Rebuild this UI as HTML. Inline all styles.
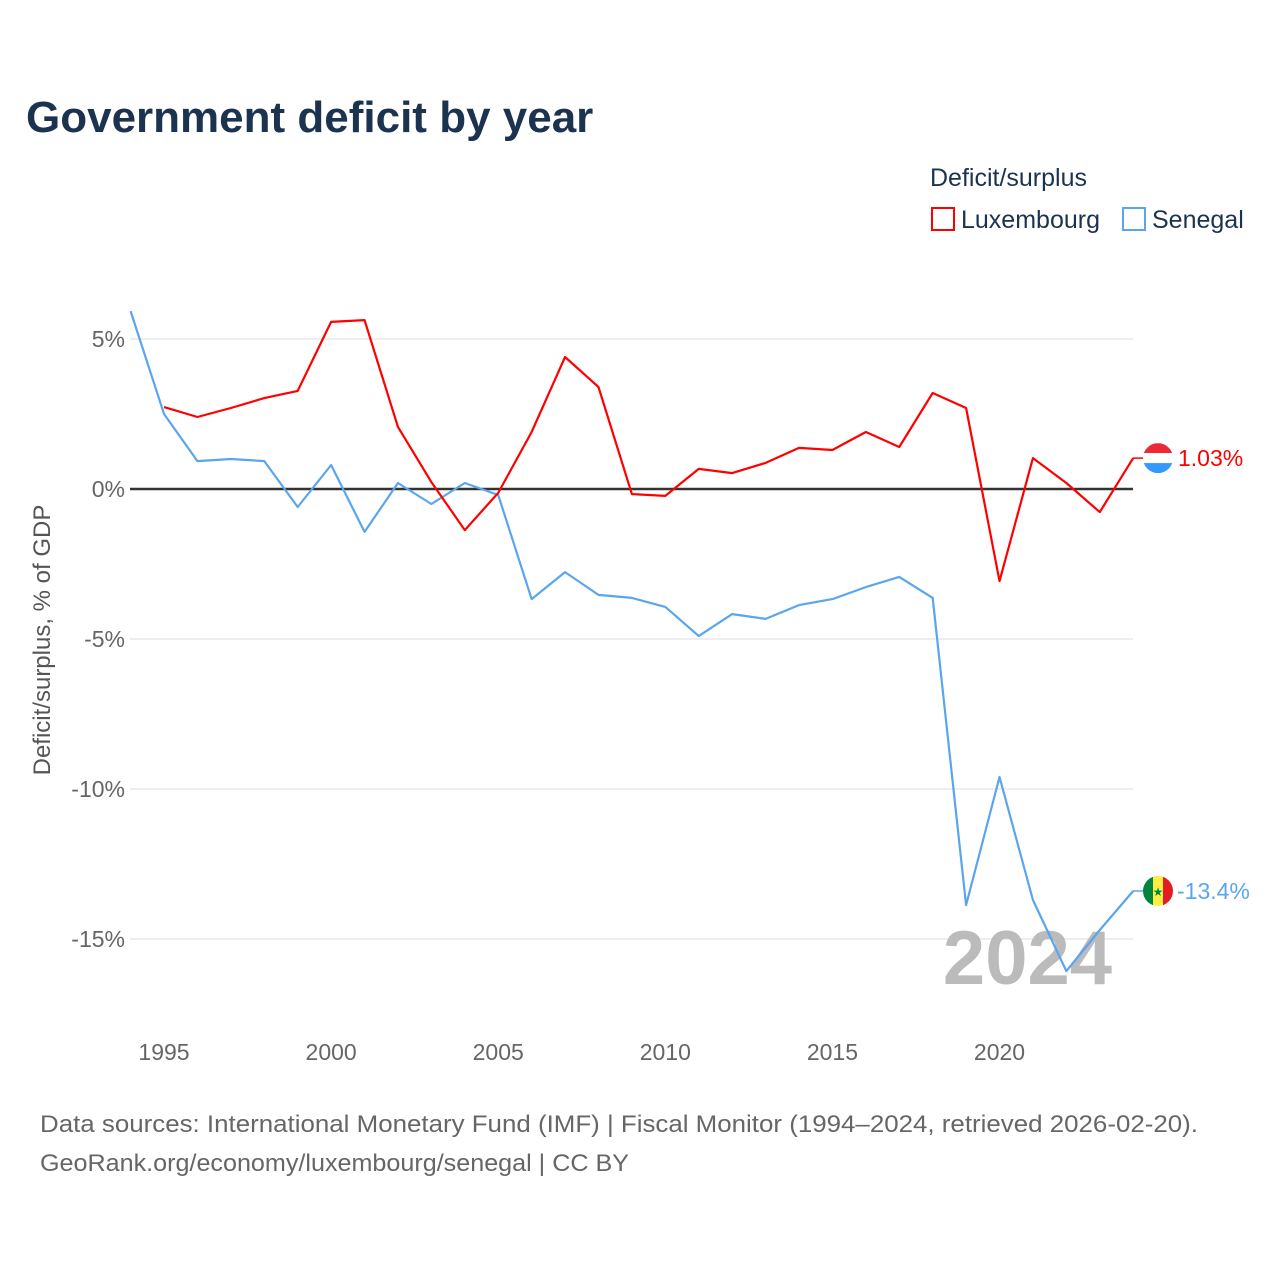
<!DOCTYPE html>
<html><head><meta charset="utf-8">
<style>
body{margin:0;background:#fff;font-family:"Liberation Sans",sans-serif;}
#wrap{position:relative;width:1280px;height:1280px;overflow:hidden;}
</style></head>
<body><div id="wrap">
<svg id="chart" width="1280" height="1280" xmlns="http://www.w3.org/2000/svg">
<text x="26" y="132" font-size="44" font-weight="bold" fill="#1c3350">Government deficit by year</text>
<text x="930" y="186" font-size="25" fill="#1c3350">Deficit/surplus</text>
<g><rect x="932" y="208" width="22" height="22" fill="none" stroke="#f00" stroke-width="2"/><text x="961" y="228" font-size="25" fill="#1c3350">Luxembourg</text></g>
<g><rect x="1123" y="208" width="22" height="22" fill="none" stroke="#5aa5ee" stroke-width="2"/><text x="1152" y="228" font-size="25" fill="#1c3350">Senegal</text></g>
<text transform="translate(50,640) rotate(-90)" text-anchor="middle" font-size="24" fill="#555">Deficit/surplus, % of GDP</text>
<g id="grid"></g><g id="yticks"></g><g id="xticks"></g>
<text x="1112" y="984" text-anchor="end" font-size="76" font-weight="bold" fill="#bbb">2024</text>
<g id="series"></g>
<text x="40" y="1132" font-size="24" fill="#666" textLength="1158" lengthAdjust="spacingAndGlyphs">Data sources: International Monetary Fund (IMF) | Fiscal Monitor (1994–2024, retrieved 2026-02-20).</text>
<text x="40" y="1171" font-size="24" fill="#666" textLength="589" lengthAdjust="spacingAndGlyphs">GeoRank.org/economy/luxembourg/senegal | CC BY</text>
</svg></div>
<script>
const yearsLux=[1995,1996,1997,1998,1999,2000,2001,2002,2003,2004,2005,2006,2007,2008,2009,2010,2011,2012,2013,2014,2015,2016,2017,2018,2019,2020,2021,2022,2023,2024];
const luxValues=[2.73,2.4,2.7,3.03,3.27,5.57,5.63,2.07,0.23,-1.37,-0.13,1.9,4.4,3.4,-0.17,-0.23,0.67,0.53,0.87,1.37,1.3,1.9,1.4,3.2,2.7,-3.07,1.03,0.2,-0.77,1.03];
const yearsSen=[1994,1995,1996,1997,1998,1999,2000,2001,2002,2003,2004,2005,2006,2007,2008,2009,2010,2011,2012,2013,2014,2015,2016,2017,2018,2019,2020,2021,2022,2023,2024];
const senValues=[5.93,2.5,0.93,1.0,0.93,-0.6,0.8,-1.43,0.2,-0.5,0.2,-0.2,-3.67,-2.77,-3.53,-3.63,-3.93,-4.9,-4.17,-4.33,-3.87,-3.67,-3.27,-2.93,-3.63,-13.87,-9.6,-13.7,-16.07,-14.7,-13.4];
const yTicks=[5,0,-5,-10,-15];
const yTickLabels=["5%","0%","-5%","-10%","-15%"];
const xTicks=[1995,2000,2005,2010,2015,2020];
const NS="http://www.w3.org/2000/svg";
const X=y=>130.6+(y-1994)*33.42;
const Y=v=>489-v*30;
function mk(t,a,p){const e=document.createElementNS(NS,t);for(const k in a)e.setAttribute(k,a[k]);p.appendChild(e);return e;}
const grid=document.getElementById('grid'),yt=document.getElementById('yticks'),xt=document.getElementById('xticks'),ser=document.getElementById('series');
yTicks.forEach((v,i)=>{
 const l=mk('line',{x1:130,x2:1133,y1:Y(v),y2:Y(v),stroke:v===0?'#333':'#e8e8e8','stroke-width':v===0?2.5:1.5},grid);
 
 
 const t=mk('text',{x:125,y:Y(v)+8,'text-anchor':'end','font-size':23,fill:'#666'},yt);t.textContent=yTickLabels[i];
 
 
});
xTicks.forEach(y=>{
 const t=mk('text',{x:X(y),y:1060,'text-anchor':'middle','font-size':23,fill:'#666'},xt);t.textContent=y;
 
 
});
function line(ys,vs,col,name){
 const p=mk('polyline',{points:ys.map((y,i)=>X(y)+','+Y(vs[i])).join(' '),fill:'none',stroke:col,'stroke-width':2.2,'stroke-linejoin':'round'},ser);
 
 
}
line(yearsSen,senValues,'#5aa5ee','senegal-line');
line(yearsLux,luxValues,'#ff0000','luxembourg-line');
const lv=luxValues[luxValues.length-1],sv=senValues[senValues.length-1];
const ly=Y(lv),sy=Y(sv),cx=1158;
mk('line',{x1:1133,y1:ly,x2:cx,y2:ly,stroke:'#f00','stroke-width':1.5},ser);
mk('line',{x1:1133,y1:sy,x2:cx,y2:sy,stroke:'#5aa5ee','stroke-width':1.5},ser);
const fl=mk('g',{},ser);


mk('clipPath',{id:'c1'},fl);mk('circle',{cx:cx,cy:ly,r:15},fl.lastChild);
const g1=mk('g',{'clip-path':'url(#c1)'},fl);
mk('rect',{x:cx-15,y:ly-15,width:30,height:10,fill:'#ed2939'},g1);
mk('rect',{x:cx-15,y:ly-5,width:30,height:10,fill:'#fff'},g1);
mk('rect',{x:cx-15,y:ly+5,width:30,height:10,fill:'#3399ff'},g1);
const fs=mk('g',{},ser);


mk('clipPath',{id:'c2'},fs);mk('circle',{cx:cx,cy:sy,r:15},fs.lastChild);
const g2=mk('g',{'clip-path':'url(#c2)'},fs);
mk('rect',{x:cx-15,y:sy-15,width:10,height:30,fill:'#00853f'},g2);
mk('rect',{x:cx-5,y:sy-15,width:10,height:30,fill:'#fdef42'},g2);
mk('rect',{x:cx+5,y:sy-15,width:10,height:30,fill:'#e31b23'},g2);
const st=mk('text',{x:cx,y:sy+5,'text-anchor':'middle','font-size':12,fill:'#00853f'},g2);st.textContent='★';
const t1=mk('text',{x:1178,y:ly+8,'font-size':23,fill:'#f00'},ser);t1.textContent=lv.toFixed(2)+'%';


const t2=mk('text',{x:1177,y:sy+8,'font-size':23,fill:'#5aa5ee'},ser);t2.textContent=sv.toFixed(1)+'%';


</script>
</body></html>
